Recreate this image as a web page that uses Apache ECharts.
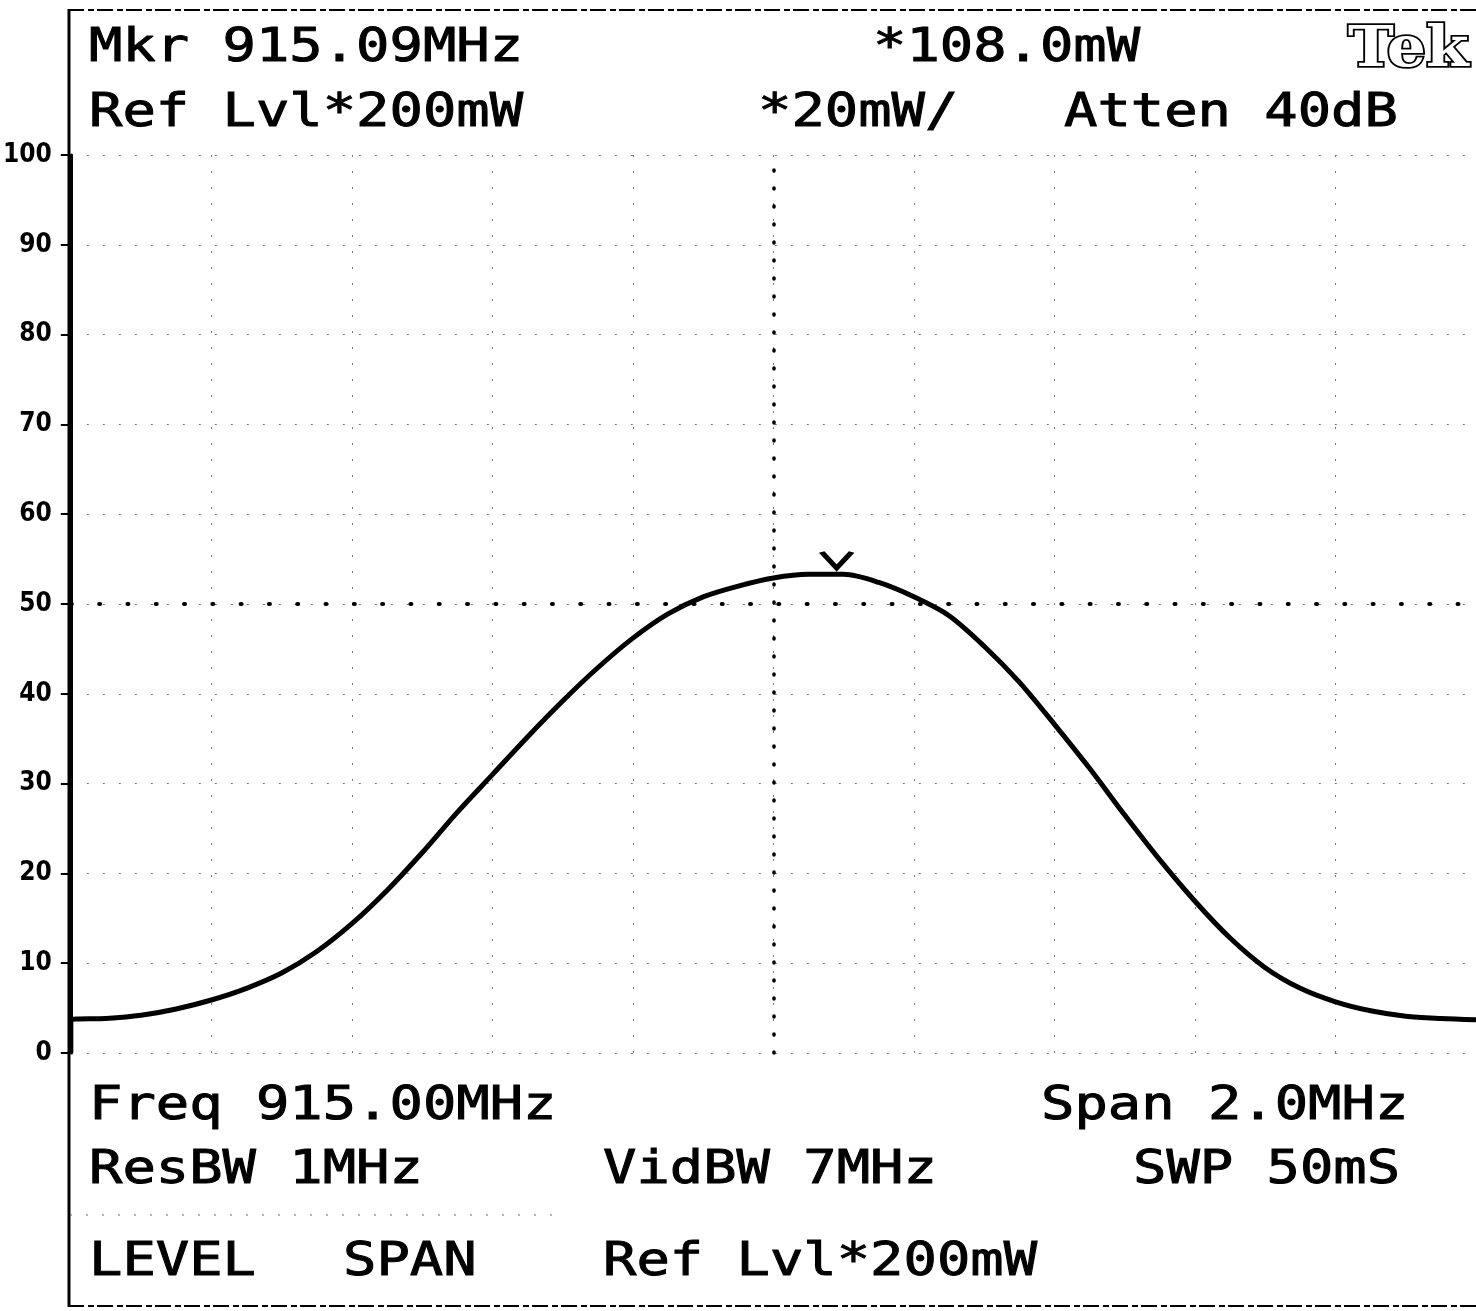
<!DOCTYPE html>
<html><head><meta charset="utf-8">
<script src="https://cdn.jsdelivr.net/npm/echarts/dist/echarts.min.js"></script>
<style>html,body{margin:0;padding:0;background:#fff}#c{width:1476px;height:1311px}</style>
</head><body><div id="c"></div>
<script>
// Trace: frequency (MHz) vs level (graticule units, 0..100 = 0..200 mW)
const freqMHz = [914.00, 914.00, 914.05, 914.10, 914.15, 914.20, 914.25, 914.30, 914.35, 914.40, 914.45,
  914.50, 914.55, 914.60, 914.65, 914.70, 914.75, 914.80, 914.85, 914.90, 914.95,
  915.00, 915.05, 915.10, 915.15, 915.20, 915.25, 915.30, 915.35, 915.40, 915.45,
  915.50, 915.55, 915.60, 915.65, 915.70, 915.75, 915.80, 915.85, 915.90, 915.95, 916.00];
const levelDiv = [0, 3.7, 3.85, 4.2, 4.9, 5.9, 7.2, 8.9, 11.3, 14.4, 18.1,
  22.3, 26.8, 31.0, 35.2, 39.2, 42.9, 46.2, 48.9, 50.8, 52.0,
  52.9, 53.3, 53.3, 52.4, 50.8, 48.7, 45.3, 41.3, 36.6, 31.7,
  26.5, 21.5, 16.9, 12.8, 9.5, 7.2, 5.7, 4.7, 4.1, 3.85, 3.7];
const yTickLabels = ['0','10','20','30','40','50','60','70','80','90','100'];
const markerFreq = 915.09;
const markerLevel = 54.0;
const refLevelLine = 50;
const centerFreq = 915.00;
const spanStart = 914.0, spanEnd = 916.0, divFreq = 0.2;
const headerTexts = ['Mkr 915.09MHz', '*108.0mW', 'Ref Lvl*200mW', '*20mW/', 'Atten 40dB'];
const footerTexts = ['Freq 915.00MHz', 'Span 2.0MHz', 'ResBW 1MHz', 'VidBW 7MHz', 'SWP 50mS', 'LEVEL', 'SPAN', 'Ref Lvl*200mW'];
const logoText = 'Tek';

// layout (positions for the annotation texts)
const headerPos = [[89,49],[873,49],[89,114],[758,114],[1064,114]];
const footerPos = [[89,1107],[1041,1107],[89,1171],[603,1171],[1133,1171],[89,1263],[343,1263],[603,1263]];
const monoFont = '47px "DejaVu Sans Mono", monospace';
function txt(t, p) {
  return {type:'text', x:p[0], y:p[1], scaleX:1.18, z:10,
    style:{text:t, font:monoFont, fill:'#000', stroke:'#000', lineWidth:1, align:'left', verticalAlign:'middle'}};
}
const graphics = [
  {type:'line', shape:{x1:69,y1:9,x2:69,y2:1307}, style:{stroke:'#000', lineWidth:3}, z:5},
  {type:'line', shape:{x1:68,y1:10,x2:1476,y2:10}, style:{stroke:'#000', lineWidth:2, lineDash:[16,4,6,3]}, z:5},
  {type:'line', shape:{x1:68,y1:1306,x2:1476,y2:1306}, style:{stroke:'#000', lineWidth:2, lineDash:[16,4,6,3]}, z:5},
  {type:'line', shape:{x1:70,y1:1215,x2:560,y2:1215}, style:{stroke:'#666', lineWidth:1, lineDash:[2,14]}, z:5},
  {type:'text', x:1348, y:51, scaleX:1.1, z:10,
    style:{text:logoText, font:'bold 56px "DejaVu Serif", serif', fill:'#fff', stroke:'#000', lineWidth:3.5, align:'left', verticalAlign:'middle'}}
];
headerTexts.forEach((t,i)=>graphics.push(txt(t, headerPos[i])));
footerTexts.forEach((t,i)=>graphics.push(txt(t, footerPos[i])));

const chart = echarts.init(document.getElementById('c'));
chart.setOption({
  animation:false,
  backgroundColor:'#fff',
  grid:{left:68, right:-2, top:155, bottom:258, containLabel:false},
  xAxis:{type:'value', min:spanStart, max:spanEnd, interval:divFreq,
    axisLabel:{show:false}, axisTick:{show:false}, axisLine:{show:false},
    splitLine:{show:true, lineStyle:{color:'#777', width:1, type:[2,14]}}},
  yAxis:{type:'value', min:0, max:100, interval:10,
    axisLine:{show:true, lineStyle:{color:'#000', width:3}},
    axisTick:{show:true, length:10, lineStyle:{color:'#000', width:2}},
    axisLabel:{color:'#000', fontWeight:'bold', fontSize:26, margin:19,
      fontFamily:'"Liberation Sans Narrow", "DejaVu Sans Condensed", "Liberation Sans", sans-serif',
      padding:[0,0,12,0],
      formatter:(v)=>yTickLabels[Math.round(v/10)]},
    splitLine:{show:true, lineStyle:{color:'#777', width:1, type:[2,14]}}},
  series:[
    {type:'line', data:freqMHz.map((f,i)=>[f, levelDiv[i]]), showSymbol:false, smooth:0.3,
      lineStyle:{color:'#000', width:5}, z:3,
      markLine:{silent:true, symbol:'none', label:{show:false},
        data:[
          {yAxis:refLevelLine, lineStyle:{color:'#000', type:[1,27.3], width:4, cap:'round'}},
          {xAxis:centerFreq, lineStyle:{color:'#000', type:[1,17], width:3.5, cap:'round'}}
        ]}},
    {type:'scatter', data:[[markerFreq, markerLevel]], symbol:'path://M0,0 L14,15 L28,0',
      symbolSize:[30,16], symbolOffset:[0,-8], z:4,
      itemStyle:{color:'rgba(0,0,0,0)', borderColor:'#000', borderWidth:4.5, opacity:1}}
  ],
  graphic:graphics
});
</script></body></html>
